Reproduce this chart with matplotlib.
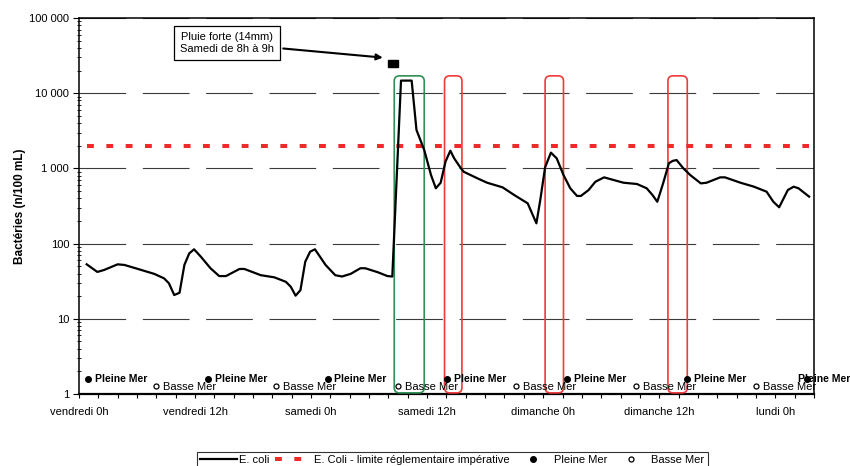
import numpy as np
import matplotlib
matplotlib.use('Agg')
import matplotlib.pyplot as plt
from matplotlib.patches import FancyBboxPatch, Rectangle
from matplotlib.ticker import FixedLocator, MultipleLocator, LogLocator, NullFormatter
from matplotlib.transforms import blended_transform_factory

plt.rcParams['font.family'] = ['Liberation Sans', 'DejaVu Sans']

# time in hours from vendredi 0h
hours = [0.8, 1.9, 2.6, 4.0, 4.7, 6.1, 7.8, 8.8, 9.3, 9.85,
         10.4, 10.9, 11.4, 11.9, 12.6, 13.6, 14.5, 15.2, 16.6, 17.1,
         18.8, 20.2, 21.4, 21.9, 22.4, 22.9, 23.4, 23.9, 24.4, 25.5,
         26.5, 27.2, 28.1, 29.1, 29.6, 30.9, 31.9, 32.4, 33.3, 34.4,
         34.9, 35.7, 36.4, 36.9, 37.4, 37.9, 38.4, 38.8, 39.5, 39.8,
         41.2, 42.2, 43.8, 45.0, 46.4, 47.3, 47.7, 48.2, 48.8, 49.4,
         50.1, 50.8, 51.5, 51.9, 52.7, 53.4, 54.3, 55.3, 56.3, 57.7,
         58.7, 59.3, 59.8, 60.4, 61.0, 61.4, 61.8, 62.5, 63.2, 64.3,
         64.9, 66.3, 66.8, 68.4, 69.8, 71.1, 71.8, 72.4, 73.3, 73.9,
         74.4, 75.5]
ecoli = [53, 42, 44.6, 53, 52, 46, 39.5, 34.5, 29.7, 20.7,
         22.2, 52, 74, 84, 67, 47, 37, 37, 46, 46,
         38, 35.6, 31, 26.7, 20.3, 24, 57.5, 78, 84, 52,
         38, 36.5, 39.6, 47, 47, 41.6, 37, 36.5, 14700, 14700,
         3240, 1760, 817, 544, 645, 1230, 1720, 1360, 1000, 900,
         738, 645, 560, 443, 343, 186, 380, 1035, 1620, 1360,
         817, 544, 430, 430, 516, 665, 760, 700, 645, 620,
         544, 443, 360, 632, 1170, 1260, 1290, 1000, 817, 632,
         645, 760, 760, 645, 571, 490, 360, 304, 516, 571,
         544, 421]

limite = 2000

pleine_mer_h = [0.9, 13.3, 25.7, 38.1, 50.5, 62.9, 75.3]
pleine_mer_y = 1.58
basse_mer_h = [7.95, 20.35, 32.95, 45.2, 57.6, 70.0]
basse_mer_y = 1.28

# highlighted periods (hours)
green_box = (32.6, 35.7)
red_boxes = [(37.8, 39.6), (48.2, 50.1), (60.9, 62.9)]
box_top = 17000

rain = (32.0, 33.0)
rain_low, rain_high = 22000, 27500

xticks = [0, 12, 24, 36, 48, 60, 72]
xlabels = ['vendredi 0h', 'vendredi 12h', 'samedi 0h', 'samedi 12h',
           'dimanche 0h', 'dimanche 12h', 'lundi 0h']
yticks = [1, 10, 100, 1000, 10000, 100000]
ylabels = ['1', '10', '100', '1 000', '10 000', '100 000']

fig = plt.figure(figsize=(8.5, 4.66), dpi=100)
ax = fig.add_axes([0.0929, 0.1545, 0.8647, 0.8069])

ax.set_yscale('log')
ax.set_xlim(0, 76)
ax.set_ylim(1, 100000)

# grid
ax.yaxis.grid(True, which='major', color='#3a3a3a', lw=0.8, ls=(0, (42, 15)))
ax.set_axisbelow(True)

l1, = ax.plot(hours, ecoli, color='black', lw=1.6, zorder=5, label='E. coli')
l2, = ax.plot([hours[0], hours[-1]], [limite, limite], color='#ee2a2a', lw=2.9,
              ls=(0, (1.7, 3.1)), zorder=4,
              label='E. Coli - limite réglementaire impérative')

l3, = ax.plot(pleine_mer_h, [pleine_mer_y] * len(pleine_mer_h), 'o', color='black',
              ms=4, clip_on=False, zorder=6, label='Pleine Mer')
l4, = ax.plot(basse_mer_h, [basse_mer_y] * len(basse_mer_h), 'o', mfc='white',
              mec='black', mew=0.9, ms=3.6, clip_on=False, zorder=6, label='Basse Mer')

for i, h in enumerate(pleine_mer_h):
    dx = 5 if i < len(pleine_mer_h) - 1 else -6.5
    ax.annotate('Pleine Mer', (h, pleine_mer_y), xytext=(dx, 0), textcoords='offset points',
                va='center', ha='left', fontsize=7.5, fontweight='bold',
                annotation_clip=False, zorder=7)
for h in basse_mer_h:
    ax.annotate('Basse Mer', (h, basse_mer_y), xytext=(5, -0.5), textcoords='offset points',
                va='center', ha='left', fontsize=8, annotation_clip=False, zorder=7)

# highlight boxes (x in hours, y in axes fraction)
trans = blended_transform_factory(ax.transData, ax.transAxes)
top_frac = np.log10(box_top) / 5
for (x0, x1), col in [(green_box, '#2f8f55')] + [(rb, '#ee3b3b') for rb in red_boxes]:
    p = FancyBboxPatch((x0, 0.003), x1 - x0, top_frac - 0.003,
                       boxstyle='round,pad=0,rounding_size=0.55', mutation_aspect=0.025,
                       transform=trans, fill=False, edgecolor=col, lw=1.2, zorder=3)
    ax.add_patch(p)

ax.add_patch(Rectangle((rain[0], rain_low), rain[1] - rain[0], rain_high - rain_low,
                       facecolor='black', edgecolor='black', zorder=6))

ax.annotate('Pluie forte (14mm)\nSamedi de 8h à 9h', xy=(31.7, 29500), xytext=(15.3, 46000),
            ha='center', va='center', fontsize=8, linespacing=1.25,
            bbox=dict(boxstyle='square,pad=0.55', fc='white', ec='black', lw=0.9),
            arrowprops=dict(arrowstyle='-|>', color='black', lw=1.5, mutation_scale=9),
            zorder=8)

# axes formatting
ax.xaxis.set_major_locator(FixedLocator(xticks))
ax.set_xticklabels(xlabels, fontsize=8)
ax.xaxis.set_minor_locator(MultipleLocator(2))
ax.tick_params(axis='x', which='both', direction='out', length=3, width=0.8, pad=6)

ax.yaxis.set_major_locator(FixedLocator(yticks))
ax.set_yticklabels(ylabels, fontsize=8)
ax.yaxis.set_minor_locator(LogLocator(base=10, subs=np.arange(2, 10)))
ax.yaxis.set_minor_formatter(NullFormatter())
ax.tick_params(axis='y', which='major', direction='out', length=4, width=0.8, pad=3)
ax.tick_params(axis='y', which='minor', direction='inout', length=3, width=0.6)

ax.set_ylabel('Bactéries (n/100 mL)', fontsize=8.5, fontweight='bold', labelpad=2)

for s in ['top', 'right', 'left']:
    ax.spines[s].set_linewidth(1.1)
ax.spines['bottom'].set_linewidth(1.6)

leg = fig.legend(handles=[l1, l2, l3, l4], loc='upper center', bbox_to_anchor=(0.532, 0.031),
                 borderaxespad=0, ncol=4, fontsize=8, frameon=True, fancybox=False,
                 edgecolor='black', handlelength=3.3, handletextpad=0.2, columnspacing=0.5,
                 borderpad=0.3)
leg.get_frame().set_linewidth(0.8)

fig.savefig('out.png', dpi=100)
